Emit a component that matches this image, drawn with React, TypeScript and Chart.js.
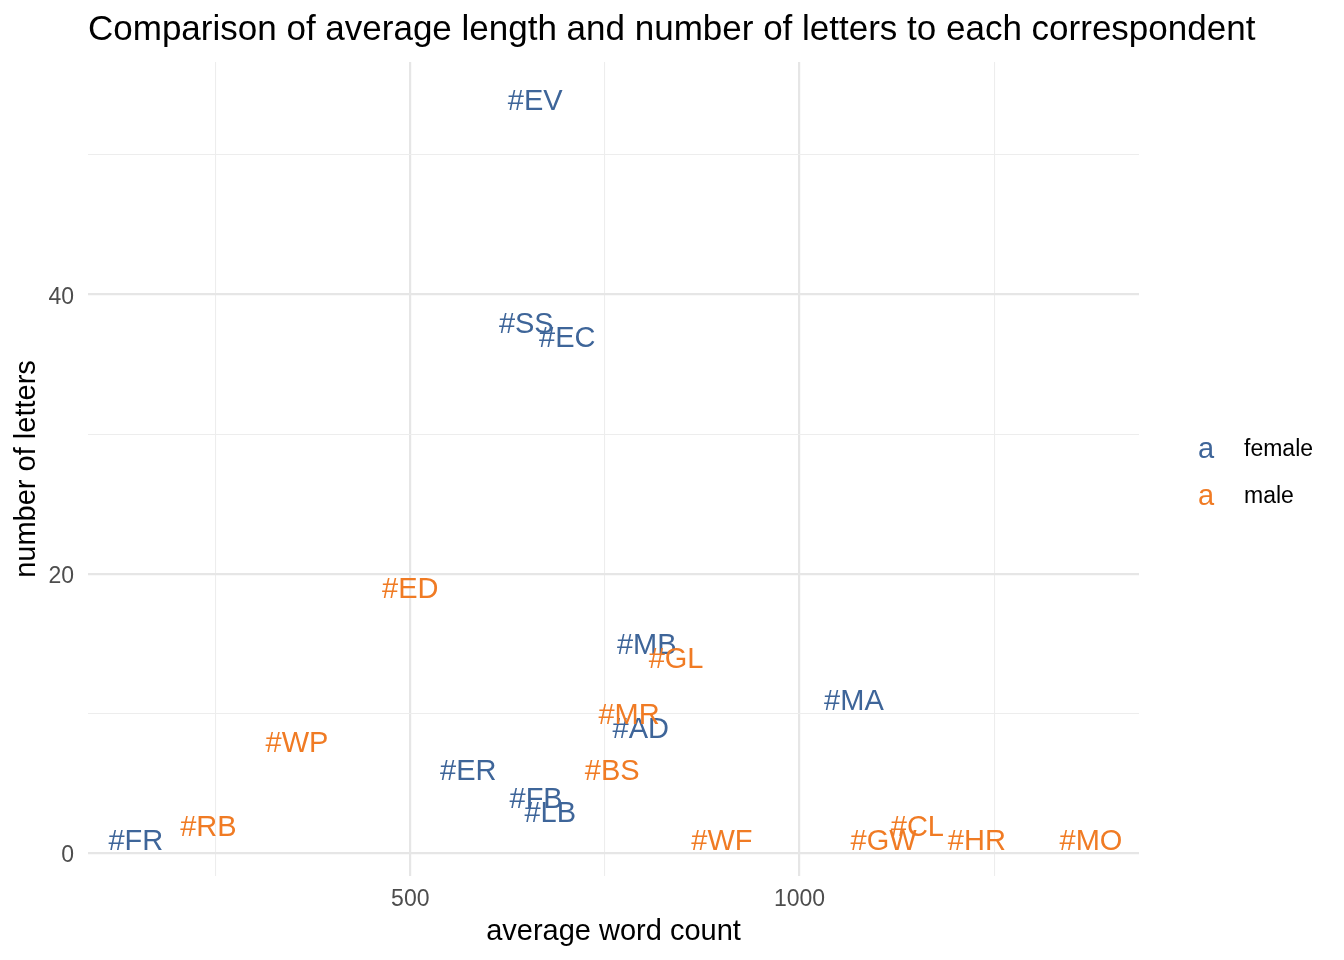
import React, { useEffect, useRef } from "react";
import { Chart, registerables } from "chart.js";

Chart.register(...registerables);

// letters per correspondent: average word count vs number of letters
const femaleNames = ["#FR", "#ER", "#FB", "#LB", "#EV", "#SS", "#EC", "#MB", "#AD", "#MA"];
const femaleWords = [147.5, 574.5, 661.6, 679.8, 660.5, 649, 701.6, 803.7, 796, 1069.8];
const femaleLetters = [1, 6, 4, 3, 54, 38, 37, 15, 9, 11];

const maleNames = ["#RB", "#WP", "#ED", "#BS", "#MR", "#GL", "#WF", "#GW", "#CL", "#HR", "#MO"];
const maleWords = [240.6, 354.5, 500, 759.4, 781, 841.4, 900.3, 1107.9, 1151.3, 1227.7, 1374.3];
const maleLetters = [2, 8, 19, 6, 10, 14, 1, 1, 2, 1, 1];

const xGridTicks = [250, 500, 750, 1000, 1250];
const xLabelTicks = [500, 1000];
const yGridTicks = [0, 10, 20, 30, 40, 50];
const yLabelTicks = [0, 20, 40];

const groups = ["female", "male"];

const FONT = "'Liberation Sans', Arial, Helvetica, sans-serif";
const BLUE = "#3E6599";
const ORANGE = "#F07B24";
const GRID_MAJOR = "#E6E6E6";
const GRID_MINOR = "#EDEDED";
const TITLE = "Comparison of average length and number of letters to each correspondent";

const toPoints = (xs: number[], ys: number[]) => xs.map((x, i) => ({ x, y: ys[i] }));

// draws the correspondent codes centred on each point
const textLabels = {
  id: "textLabels",
  afterDatasetsDraw(chart: any) {
    const ctx = chart.ctx;
    ctx.save();
    ctx.font = `29px ${FONT}`;
    ctx.textAlign = "center";
    ctx.textBaseline = "middle";
    chart.data.datasets.forEach((ds: any, i: number) => {
      const meta = chart.getDatasetMeta(i);
      ctx.fillStyle = ds.borderColor;
      meta.data.forEach((pt: any, j: number) => {
        ctx.fillText(ds.names[j], pt.x, pt.y + 2.5);
      });
    });
    ctx.restore();
  },
};

// title left-aligned on the panel, plus the "a" legend on the right
const decorations = {
  id: "decorations",
  afterDraw(chart: any) {
    const ctx = chart.ctx;
    const area = chart.chartArea;
    ctx.save();
    ctx.fillStyle = "#000";
    ctx.font = `35px ${FONT}`;
    ctx.textAlign = "left";
    ctx.textBaseline = "middle";
    ctx.fillText(TITLE, area.left, 30.5);

    const mid = (area.top + area.bottom) / 2 + 4;
    chart.data.datasets.forEach((ds: any, i: number) => {
      const y = mid + (i === 0 ? -23.5 : 23.5);
      ctx.font = `29px ${FONT}`;
      ctx.textAlign = "center";
      ctx.fillStyle = ds.borderColor;
      ctx.fillText("a", area.right + 67, y);
      ctx.font = `23px ${FONT}`;
      ctx.textAlign = "left";
      ctx.fillStyle = "#000";
      ctx.fillText(ds.label, area.right + 105, y);
    });
    ctx.restore();
  },
};

const App: React.FC = () => {
  const chartRef = useRef<HTMLCanvasElement>(null);
  const chartInstance = useRef<Chart>();

  useEffect(() => {
    document.body.style.margin = "0";
    if (!chartRef.current) return;
    const ctx = chartRef.current.getContext("2d");
    if (!ctx) return;

    Chart.defaults.font.family = FONT;

    chartInstance.current = new Chart(ctx, {
      type: "scatter",
      data: {
        datasets: [
          {
            label: groups[0],
            data: toPoints(femaleWords, femaleLetters),
            names: femaleNames,
            borderColor: BLUE,
            backgroundColor: BLUE,
            pointRadius: 0,
          } as any,
          {
            label: groups[1],
            data: toPoints(maleWords, maleLetters),
            names: maleNames,
            borderColor: ORANGE,
            backgroundColor: ORANGE,
            pointRadius: 0,
          } as any,
        ],
      },
      options: {
        responsive: false,
        animation: false,
        events: [],
        layout: { padding: { top: 62, right: 205, bottom: 0, left: 0 } },
        plugins: {
          legend: { display: false },
          title: { display: false },
          tooltip: { enabled: false },
        },
        scales: {
          x: {
            type: "linear",
            min: 86,
            max: 1436,
            border: { display: false },
            grid: {
              color: (c: any) => (xLabelTicks.includes(c.tick?.value) ? GRID_MAJOR : GRID_MINOR),
              drawTicks: false,
              lineWidth: (c: any) => (xLabelTicks.includes(c.tick?.value) ? 2.2 : 1.1),
            },
            ticks: {
              autoSkip: false,
              maxRotation: 0,
              padding: 10,
              color: "#4D4D4D",
              font: { size: 23 },
              callback: (v: any) => (xLabelTicks.includes(v) ? String(v) : ""),
            },
            afterBuildTicks: (s: any) => {
              s.ticks = xGridTicks.map((v) => ({ value: v }));
            },
            afterFit: (s: any) => {
              s.height = 84;
            },
            title: {
              display: true,
              text: "average word count",
              color: "#000",
              font: { size: 29 },
              padding: { top: 0, bottom: 11 },
            },
          },
          y: {
            type: "linear",
            min: -1.65,
            max: 56.65,
            border: { display: false },
            grid: {
              color: (c: any) => (yLabelTicks.includes(c.tick?.value) ? GRID_MAJOR : GRID_MINOR),
              drawTicks: false,
              lineWidth: (c: any) => (yLabelTicks.includes(c.tick?.value) ? 2.2 : 1.1),
            },
            ticks: {
              autoSkip: false,
              padding: 14,
              labelOffset: 3,
              color: "#4D4D4D",
              font: { size: 23 },
              callback: (v: any) => (yLabelTicks.includes(v) ? String(v) : ""),
            },
            afterBuildTicks: (s: any) => {
              s.ticks = yGridTicks.map((v) => ({ value: v }));
            },
            afterFit: (s: any) => {
              s.width = 88;
            },
            title: {
              display: true,
              text: "number of letters",
              color: "#000",
              font: { size: 29 },
              padding: { top: 10, bottom: 0 },
            },
          },
        },
      },
      plugins: [textLabels, decorations],
    });

    return () => {
      if (chartInstance.current) {
        chartInstance.current.destroy();
      }
    };
  }, []);

  return (
    <div style={{ width: 1344, height: 960, background: "#fff" }}>
      <canvas ref={chartRef} width={1344} height={960}></canvas>
    </div>
  );
};

export default App;
